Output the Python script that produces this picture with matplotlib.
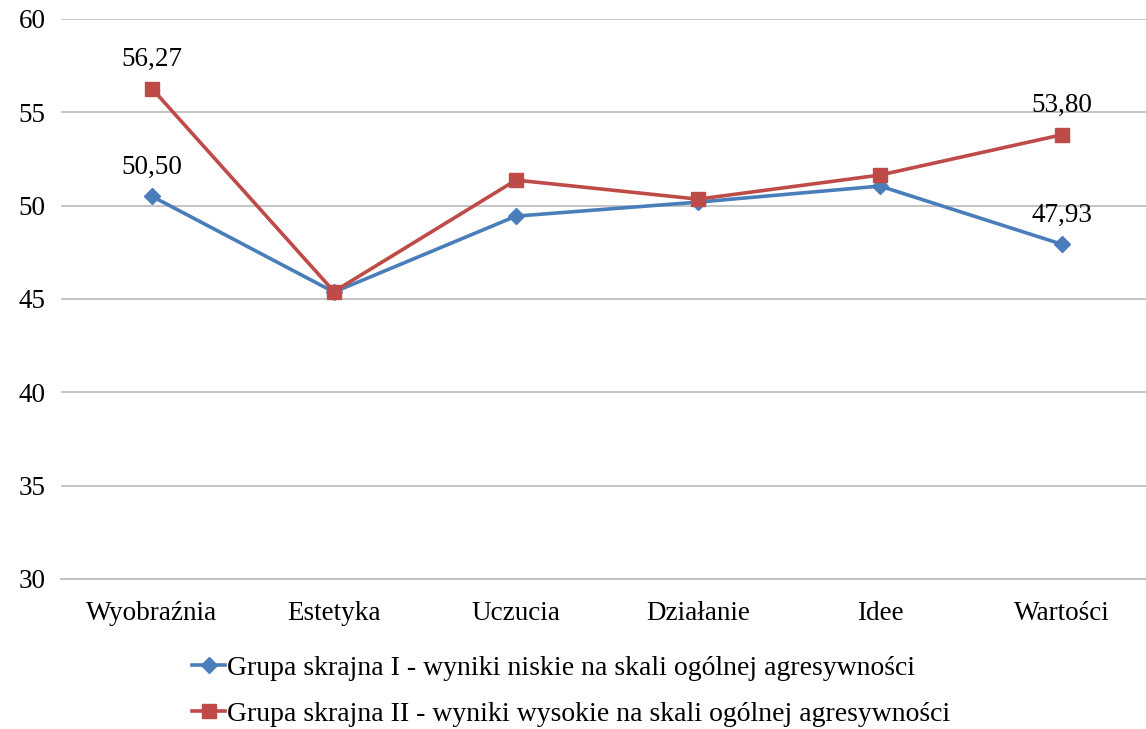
import matplotlib.pyplot as plt
from matplotlib.lines import Line2D

categories = ["Wyobraźnia", "Estetyka", "Uczucia", "Działanie", "Idee", "Wartości"]
group_low = [50.50, 45.37, 49.44, 50.19, 51.05, 47.93]
group_high = [56.27, 45.40, 51.37, 50.35, 51.64, 53.80]
label_low = "Grupa skrajna I - wyniki niskie na skali ogólnej agresywności"
label_high = "Grupa skrajna II - wyniki wysokie na skali ogólnej agresywności"
yticks = [30, 35, 40, 45, 50, 55, 60]

blue = "#4A7EBB"
red = "#BE4B48"

plt.rcParams["font.family"] = ["Liberation Serif", "DejaVu Serif"]

fig = plt.figure(figsize=(11.46, 7.29), dpi=100)
ax = fig.add_axes([61 / 1146, 1 - 579 / 729, 1092 / 1146, 560 / 729])

x = list(range(len(categories)))
ax.plot(x, group_low, color=blue, linewidth=2.6, marker="D", markersize=8,
        label=label_low, zorder=3)
ax.plot(x, group_high, color=red, linewidth=2.6, marker="s", markersize=10,
        label=label_high, zorder=3)

# value labels only at the ends
for series in (group_low, group_high):
    for i in (0, len(series) - 1):
        ax.annotate(f"{series[i]:.2f}".replace(".", ","), (x[i], series[i]),
                    xytext=(0, 12), textcoords="offset points",
                    ha="center", va="bottom", fontsize=19.5)

ax.set_xlim(-0.5, len(categories) - 0.5)
ax.set_ylim(30, 60)
ax.set_yticks(yticks)
ax.set_xticks(x)
ax.set_xticklabels(categories)
ax.tick_params(axis="both", length=0, labelsize=19.5)
ax.tick_params(axis="y", pad=11)
ax.tick_params(axis="x", pad=16)
ax.yaxis.grid(True, color="#BFBFBF", linewidth=1.3)
ax.set_axisbelow(True)
for side in ("top", "right", "left"):
    ax.spines[side].set_visible(False)
ax.spines["bottom"].set_color("#BFBFBF")
ax.spines["bottom"].set_linewidth(1.3)

handles = [
    Line2D([], [], color=blue, linewidth=2.6, marker="D", markersize=8),
    Line2D([], [], color=red, linewidth=2.6, marker="s", markersize=10),
]
fig.legend(handles, [label_low, label_high], loc="center",
           bbox_to_anchor=(571 / 1146, 1 - 691 / 729), frameon=False,
           fontsize=20, handlelength=1.2, handletextpad=0.05, labelspacing=0.73)

fig.savefig("out.png", dpi=100)
